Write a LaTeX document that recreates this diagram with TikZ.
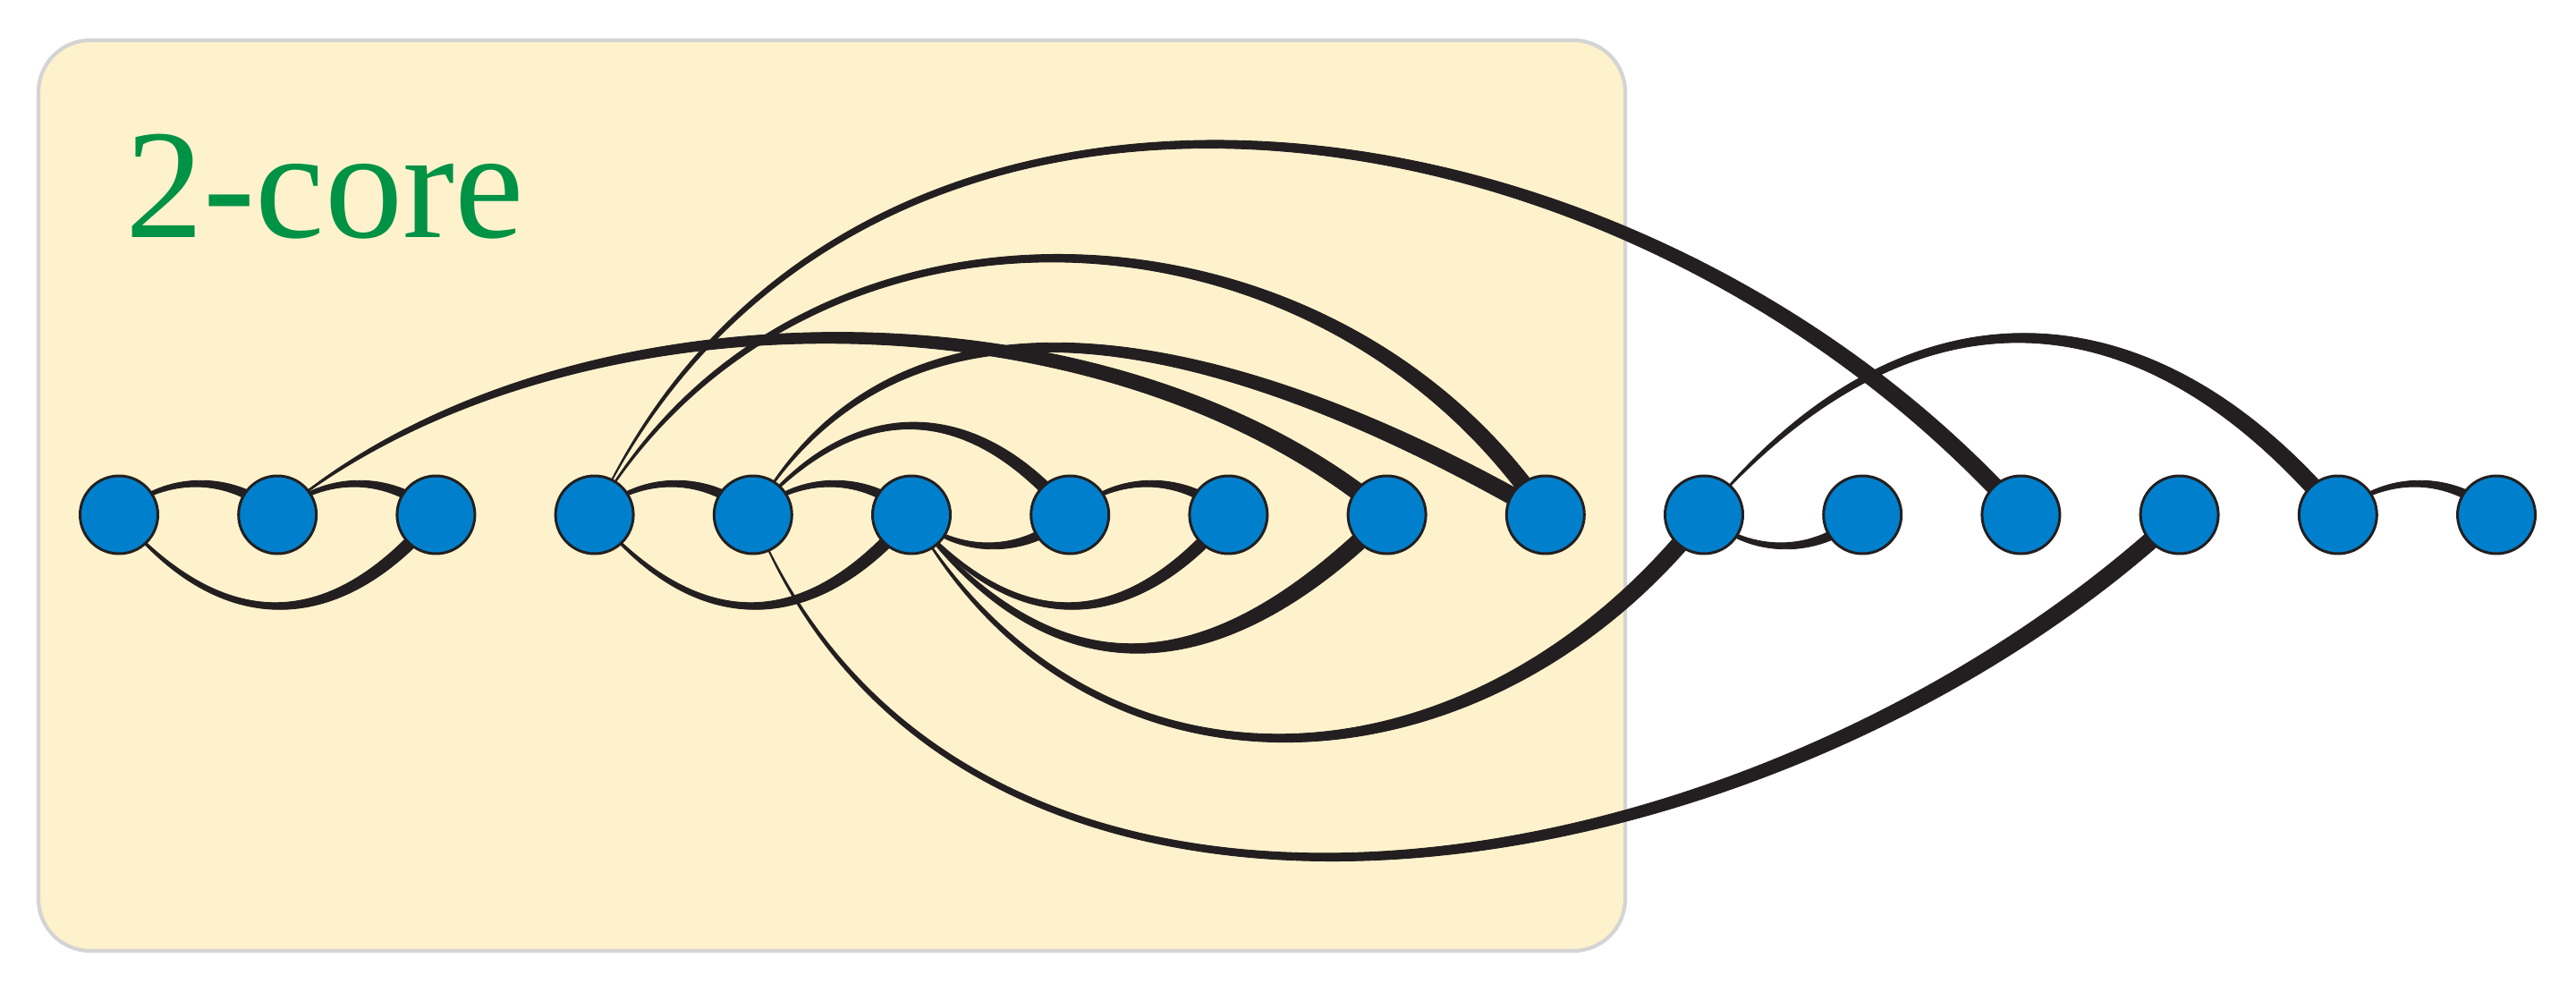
\documentclass[tikz,border=0pt]{standalone}
\usepackage{fontspec}
\setmainfont{Liberation Serif}
\usetikzlibrary{positioning,calc,backgrounds}

\definecolor{corefill}{HTML}{FEF2CC}
\definecolor{coreline}{HTML}{D4D4D4}
\definecolor{nodeblue}{HTML}{0080CC}
\definecolor{ink}{HTML}{231F20}
\definecolor{coregreen}{HTML}{009245}

\tikzset{
  vertex/.style={circle, draw=ink, fill=nodeblue, line width=0.85pt, minimum size=0.87cm, inner sep=0pt},
  edge/.style={fill=ink, draw=ink, line width=0.25pt},
  corebox/.style={draw=coreline, fill=corefill, line width=1.2pt, rounded corners=0.58cm},
  corelabel/.style={text=coregreen, font=\fontsize{49.6}{50}\selectfont, inner sep=0pt}
}

% tapered edge: [half width at thick end] thin at #2, thick at #3, out angle, in angle, looseness
\newcommand{\taper}[6][0.095cm]{%
  \filldraw[edge] let \p1=($(#3.center)-(#2.center)$), \n1={0.3915*#6*veclen(\x1,\y1)} in
    (#2.center) .. controls ($(#2.center)+(#4:\n1)+(#4+90:0.9*#1)$)
      and ($(#3.center)+(#5:\n1)+(#5-90:#1)$) .. ($(#3.center)+(#5-90:#1)$)
    -- ($(#3.center)+(#5+90:#1)$) .. controls ($(#3.center)+(#5:\n1)+(#5+90:#1)$)
      and ($(#2.center)+(#4:\n1)+(#4-90:0.9*#1)$) .. (#2.center) -- cycle;}

\begin{document}
\begin{tikzpicture}[node distance=1.772cm]
  \useasboundingbox (0,0) rectangle (28.8,11.08);

  % vertices in one row
  \node [vertex] (v1) at (1.33,5.325) {};
  \node [vertex, right of=v1] (v2) {};
  \node [vertex, right of=v2] (v3) {};
  \node [vertex, right of=v3] (v4) {};
  \node [vertex, right of=v4] (v5) {};
  \node [vertex, right of=v5] (v6) {};
  \node [vertex, right of=v6] (v7) {};
  \node [vertex, right of=v7] (v8) {};
  \node [vertex, right of=v8] (v9) {};
  \node [vertex, right of=v9] (v10) {};
  \node [vertex, right of=v10] (v11) {};
  \node [vertex, right of=v11] (v12) {};
  \node [vertex, right of=v12] (v13) {};
  \node [vertex, right of=v13] (v14) {};
  \node [vertex, right of=v14] (v15) {};
  \node [vertex, right of=v15] (v16) {};

  % core label
  \node [corelabel, anchor=base west] (corename) at (1.40,8.42) {2-core};

  \begin{pgfonlayer}{background}
    % 2-core region
    \draw [corebox] (0.43,0.45) rectangle (18.17,10.63);

    % short arcs above
    \taper[0.055cm]{v1}{v2}{42}{138}{1}
    \taper[0.055cm]{v2}{v3}{42}{138}{1}
    \taper[0.055cm]{v4}{v5}{42}{138}{1}
    \taper[0.055cm]{v5}{v6}{42}{138}{1}
    \taper[0.055cm]{v7}{v8}{42}{138}{1}
    \taper[0.055cm]{v15}{v16}{42}{138}{1}

    % long arcs above
    \taper[0.07cm]{v5}{v7}{50}{130}{1.25}
    \taper{v2}{v9}{40}{140}{0.845}
    \taper{v5}{v10}{60}{150}{1.035}
    \taper{v4}{v10}{60}{124}{1.084}
    \taper{v4}{v13}{65}{132}{1.07}
    \taper{v11}{v15}{50}{130}{1.24}

    % arcs below
    \taper[0.055cm]{v6}{v7}{-42}{-138}{1}
    \taper[0.055cm]{v11}{v12}{-42}{-138}{1}
    \taper[0.07cm]{v1}{v3}{-50}{-130}{1.28}
    \taper[0.07cm]{v4}{v6}{-50}{-130}{1.28}
    \taper[0.07cm]{v6}{v8}{-50}{-130}{1.28}
    \taper{v6}{v9}{-52}{-135}{1.28}
    \taper{v6}{v11}{-60}{-128}{1.16}
    \taper{v5}{v14}{-68}{-137}{1.01}
  \end{pgfonlayer}
\end{tikzpicture}
\end{document}
